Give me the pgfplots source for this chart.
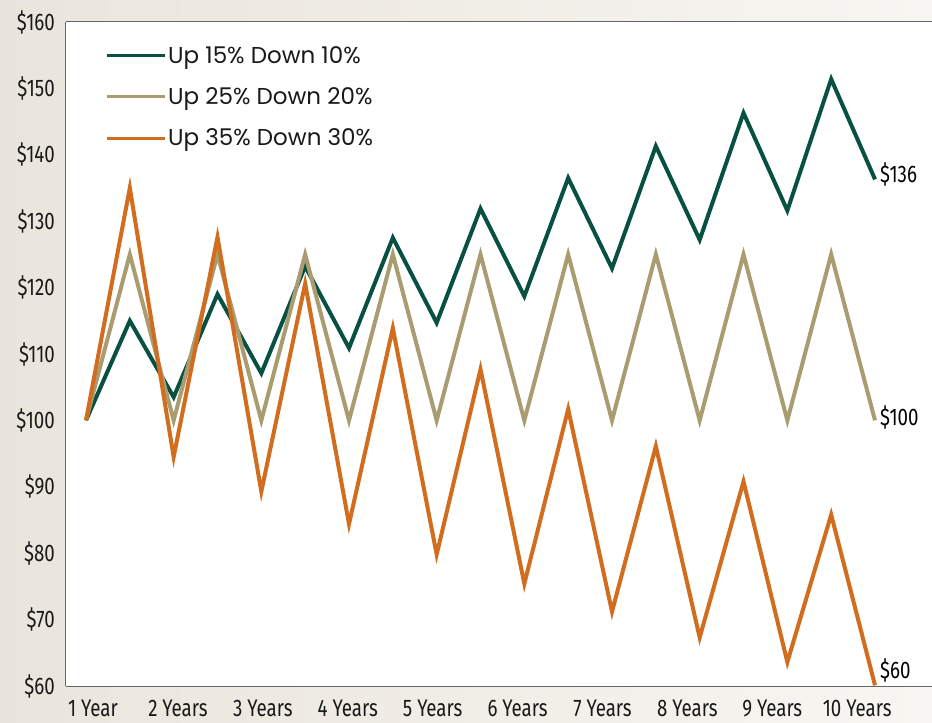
\documentclass[border=0pt]{standalone}
\usepackage{pgfplots}
\pgfplotsset{compat=1.18}
\usepackage{fontspec}
\setmainfont{Fira Sans}
\newfontfamily\condfont[FakeStretch=0.78]{Fira Sans}
\newfontfamily\legfont{Poppins}
\definecolor{cgreen}{RGB}{8,80,66}
\definecolor{ctan}{RGB}{169,156,112}
\definecolor{corange}{RGB}{210,108,30}
\definecolor{bgL}{RGB}{234,229,220}
\definecolor{bgR}{RGB}{247,246,242}
\begin{document}
\begin{tikzpicture}
\useasboundingbox (-66pt,-37pt) rectangle (866pt,686pt);
\shade[left color=bgL, right color=bgR] (-66pt,-37pt) rectangle (866pt,686pt);
\begin{axis}[
  at={(0pt,0pt)}, anchor=south west,
  scale only axis, width=866pt, height=664pt,
  xmin=-0.456, xmax=19.30, ymin=60, ymax=160,
  axis x line*=box, axis y line*=left,
  axis line style={draw=black!60, line width=1pt},
  axis background/.style={fill=white},
  major tick length=0pt,
  ytick={60,70,...,160},
  yticklabels={\$60,\$70,\$80,\$90,\$100,\$110,\$120,\$130,\$140,\$150,\$160},
  xtick={0.16,2.097,4.034,5.971,7.908,9.845,11.782,13.719,15.656,17.593},
  xticklabels={1 Year,2 Years,3 Years,4 Years,5 Years,6 Years,7 Years,8 Years,9 Years,10 Years},
  ticklabel style={font=\condfont\fontsize{24}{26}\selectfont, text=black!90},
  yticklabel style={anchor=east, inner sep=0pt, xshift=-11pt},
  xticklabel style={anchor=north, inner sep=0pt, yshift=-14pt},
  clip=false,
  legend style={at={(axis description cs:0,1)}, anchor=north west,
    xshift=39pt, yshift=-22pt, draw=none, fill=none, inner sep=0pt,
    font=\legfont\fontsize{23}{25}\selectfont, row sep=19pt,
    nodes={inner sep=2pt, text=black!90}},
  legend cell align=left,
  legend image code/.code={\draw[#1, line width=3pt] (0pt,0pt) -- (58pt,0pt);},
  every axis plot/.append style={line width=4pt, line join=miter, miter limit=20},
]
\addplot[cgreen] coordinates {(0,100) (1,115) (2,103.5) (3,119.0) (4,107.1) (5,123.2) (6,110.9) (7,127.5) (8,114.7) (9,131.9) (10,118.7) (11,136.5) (12,122.9) (13,141.3) (14,127.2) (15,146.3) (16,131.6) (17,151.4) (18,136.3)};
\addlegendentry{Up 15\% Down 10\%}
\addplot[ctan] coordinates {(0,100) (1,125) (2,100) (3,125) (4,100) (5,125) (6,100) (7,125) (8,100) (9,125) (10,100) (11,125) (12,100) (13,125) (14,100) (15,125) (16,100) (17,125) (18,100)};
\addlegendentry{Up 25\% Down 20\%}
\addplot[corange] coordinates {(0,100) (1,135) (2,94.5) (3,127.6) (4,89.3) (5,120.6) (6,84.4) (7,113.9) (8,79.8) (9,107.7) (10,75.4) (11,101.7) (12,71.2) (13,96.1) (14,67.3) (15,90.8) (16,63.6) (17,85.8) (18,60.1)};
\addlegendentry{Up 35\% Down 30\%}
\node[anchor=west, inner sep=0pt, xshift=5pt, font=\condfont\fontsize{24}{26}\selectfont] at (axis cs:18,137.1) {\$136};
\node[anchor=west, inner sep=0pt, xshift=5pt, font=\condfont\fontsize{24}{26}\selectfont] at (axis cs:18,100.4) {\$100};
\node[anchor=west, inner sep=0pt, xshift=5pt, font=\condfont\fontsize{24}{26}\selectfont] at (axis cs:18,62.3) {\$60};
\end{axis}
\end{tikzpicture}
\end{document}
